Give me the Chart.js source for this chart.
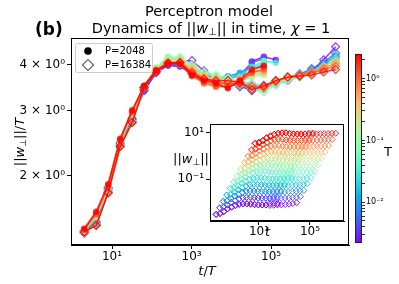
<!DOCTYPE html>
<html>
<head>
<meta charset="utf-8">
<script src="https://cdn.jsdelivr.net/npm/chart.js@4.4.1/dist/chart.umd.min.js"></script>
<style>
  body { margin: 0; background: #fff; }
  #wrap { position: relative; width: 399px; height: 284px; }
  canvas { position: absolute; }
</style>
</head>
<body>
<div id="wrap">
  <canvas id="main" width="399" height="284" style="left:0;top:0"></canvas>
  <canvas id="inset" width="190" height="125" style="left:160px;top:115px"></canvas>
  <canvas id="cbar" width="69" height="215" style="left:330px;top:40px"></canvas>
</div>
<script>
// temperatures (colour bar), low -> high
const temps = [0.0022, 0.0042, 0.0079, 0.015, 0.0285, 0.054, 0.102, 0.194, 0.368, 0.70, 1.32, 2.5];

// t/T sampling
const tOverT = [2, 4, 8, 16, 32, 64, 128, 256, 512, 1024, 2048, 4096, 8192, 16384, 32768,
  65536, 131072, 262144, 524288, 1048576, 2097152, 4194304];

// ||w_perp||/T, P=16384 (diamonds), one row per temperature
const wBig = [
  [1.40,1.50,1.86,2.46,2.86,3.40,3.80,4.02,4.08,4.10,3.85,3.68,3.58,3.52,3.40,3.45,3.55,3.62,3.72,3.85,4.12,4.47],
  [1.41,1.49,1.85,2.44,2.84,3.42,3.82,4.00,4.05,3.95,3.80,3.64,3.55,3.48,3.42,3.50,3.58,3.66,3.75,3.90,4.05,4.30],
  [1.42,1.48,1.83,2.43,2.82,3.45,3.84,4.02,4.00,3.90,3.75,3.66,3.60,3.50,3.46,3.52,3.60,3.70,3.78,3.88,4.02,4.20],
  [1.41,1.48,1.82,2.42,2.81,3.46,3.85,4.05,4.02,3.88,3.72,3.65,3.62,3.58,3.50,3.48,3.58,3.66,3.74,3.85,3.98,4.25],
  [1.41,1.48,1.82,2.41,2.80,3.47,3.86,4.08,4.10,3.92,3.78,3.70,3.65,3.60,3.55,3.50,3.55,3.62,3.70,3.82,3.96,4.15],
  [1.41,1.47,1.81,2.41,2.80,3.48,3.88,4.12,4.15,3.95,3.80,3.72,3.68,3.55,3.42,3.38,3.52,3.64,3.72,3.80,3.92,4.05],
  [1.41,1.47,1.81,2.40,2.80,3.48,3.88,4.12,4.18,4.00,3.82,3.75,3.66,3.58,3.45,3.40,3.55,3.65,3.70,3.78,3.88,4.00],
  [1.41,1.47,1.80,2.40,2.79,3.47,3.86,4.08,4.12,3.95,3.80,3.70,3.62,3.56,3.50,3.45,3.58,3.66,3.72,3.80,3.90,4.05],
  [1.41,1.47,1.80,2.40,2.79,3.47,3.85,4.06,4.08,3.90,3.72,3.65,3.58,3.52,3.50,3.48,3.60,3.68,3.74,3.82,3.95,4.10],
  [1.41,1.47,1.80,2.40,2.79,3.47,3.84,4.05,4.06,3.85,3.68,3.60,3.55,3.52,3.48,3.50,3.62,3.70,3.75,3.82,3.92,4.02],
  [1.41,1.47,1.80,2.40,2.79,3.47,3.83,4.04,4.05,3.82,3.66,3.58,3.55,3.55,3.50,3.46,3.60,3.70,3.74,3.80,3.88,3.95],
  [1.41,1.47,1.80,2.40,2.79,3.47,3.83,4.03,4.05,3.78,3.65,3.62,3.62,3.58,3.42,3.50,3.62,3.70,3.72,3.75,3.82,3.88]
];

// ||w_perp||/T, P=2048 (filled circles)
const wSmall = [
  [1.40,1.53,1.84,2.44,2.86,3.40,3.80,3.98,3.95,3.78,3.64,3.58,3.55,3.60,4.08,4.20,4.12],
  [1.41,1.53,1.84,2.45,2.87,3.42,3.82,4.00,3.98,3.80,3.66,3.62,3.65,3.75,4.05,4.15],
  [1.41,1.54,1.84,2.45,2.88,3.44,3.85,4.02,4.00,3.82,3.68,3.68,3.72,3.80,3.90,3.95],
  [1.41,1.54,1.85,2.46,2.90,3.46,3.88,4.08,4.05,3.85,3.68,3.65,3.70,3.78,3.92,4.00],
  [1.42,1.55,1.85,2.47,2.92,3.48,3.90,4.15,4.12,3.88,3.70,3.62,3.65,3.72,3.95,4.08,4.05],
  [1.42,1.55,1.86,2.47,2.93,3.50,3.92,4.20,4.18,3.92,3.72,3.65,3.58,3.60,3.85,4.10],
  [1.42,1.56,1.86,2.48,2.94,3.50,3.92,4.18,4.15,3.90,3.70,3.62,3.60,3.58,3.70,3.80],
  [1.42,1.56,1.87,2.48,2.95,3.50,3.90,4.12,4.10,3.85,3.65,3.58,3.55,3.62,3.72,3.75],
  [1.43,1.57,1.87,2.49,2.96,3.50,3.88,4.08,4.05,3.80,3.60,3.52,3.55,3.68,3.78,3.80],
  [1.43,1.57,1.88,2.50,2.97,3.50,3.87,4.06,4.02,3.75,3.55,3.48,3.50,3.65,3.82,3.85],
  [1.43,1.58,1.88,2.50,2.98,3.50,3.86,4.05,4.00,3.72,3.58,3.50,3.48,3.58,3.80,3.90],
  [1.44,1.60,1.90,2.52,3.01,3.50,3.85,4.02,4.02,3.75,3.62,3.56,3.45,3.62,3.88,3.97]
];

const yTicks = [2, 3, 4];
const xTicks = [1e1, 1e3, 1e5];
const insetXTicks = [1e1, 1e5];
const insetYTicks = [1e-1, 1e1];
const cbMajor = [0.01, 0.1, 1];

const FONT = "'DejaVu Sans', sans-serif";
const SUP = {'0':'⁰','1':'¹','2':'²','3':'³','4':'⁴','5':'⁵','6':'⁶','7':'⁷','8':'⁸','9':'⁹','-':'⁻'};
const sup = n => String(n).split('').map(c => SUP[c]).join('');
const pow10 = v => '10' + sup(Math.round(Math.log10(v)));

// matplotlib "rainbow"
function rainbow(x, a) {
  const cl = v => Math.max(0, Math.min(1, v));
  const r = cl(Math.abs(2 * x - 0.5)), g = cl(Math.sin(Math.PI * x)), b = cl(Math.cos(Math.PI * x / 2));
  return `rgba(${Math.round(r*255)},${Math.round(g*255)},${Math.round(b*255)},${a})`;
}
const lmin = Math.log10(temps[0]), lmax = Math.log10(temps[temps.length - 1]);
const tColor = (T, a) => rainbow((Math.log10(T) - lmin) / (lmax - lmin), a);

// draw text made of pieces with different fonts
function rich(ctx, parts, x, y, align) {
  let w = 0;
  parts.forEach(p => { ctx.font = p.f; w += ctx.measureText(p.t).width; });
  let cx = align === 'center' ? x - w / 2 : x;
  ctx.textBaseline = 'middle';
  ctx.textAlign = 'left';
  parts.forEach(p => { ctx.font = p.f; ctx.fillText(p.t, cx, y + (p.dy || 0)); cx += ctx.measureText(p.t).width; });
}

// ---- main plot ----
const mainSets = [];
temps.forEach((T, i) => {
  mainSets.push({
    data: wBig[i].map((v, j) => ({x: tOverT[j], y: v})),
    showLine: true, borderColor: tColor(T, 0.8), borderWidth: 1.4,
    pointStyle: 'rectRot', pointRadius: 4, pointBorderWidth: 1.1,
    pointBorderColor: tColor(T, 0.8), pointBackgroundColor: 'rgba(0,0,0,0)',
    order: 100 - i * 2
  });
  mainSets.push({
    data: wSmall[i].map((v, j) => ({x: tOverT[j], y: v})),
    showLine: true, borderColor: tColor(T, 0.8), borderWidth: 1.6,
    pointStyle: 'circle', pointRadius: 3.2, pointBorderWidth: 0,
    pointBackgroundColor: tColor(T, 0.8),
    order: 99 - i * 2
  });
});

const mainDecor = {
  id: 'mainDecor',
  afterDraw(chart) {
    const ctx = chart.ctx, ca = chart.chartArea;
    ctx.save();
    ctx.strokeStyle = '#000'; ctx.lineWidth = 1;
    ctx.strokeRect(Math.round(ca.left) + 0.5, Math.round(ca.top) + 0.5, Math.round(ca.width) - 1, Math.round(ca.height) - 1);
    ctx.fillStyle = '#000';
    // titles
    rich(ctx, [{t: 'Perceptron model', f: `14.5px ${FONT}`}], 209, 12, 'center');
    rich(ctx, [
      {t: 'Dynamics of ||', f: `14.5px ${FONT}`},
      {t: 'w', f: `italic 14.5px ${FONT}`},
      {t: '⊥', f: `10px ${FONT}`, dy: 3},
      {t: '|| in time, ', f: `14.5px ${FONT}`},
      {t: 'χ', f: `italic 14.5px ${FONT}`},
      {t: ' = 1', f: `14.5px ${FONT}`}
    ], 211, 29, 'center');
    rich(ctx, [{t: '(b)', f: `bold 17px ${FONT}`}], 35, 31, 'left');
    // x label
    rich(ctx, [
      {t: 't', f: `italic 13px ${FONT}`}, {t: '/', f: `13px ${FONT}`}, {t: 'T', f: `italic 13px ${FONT}`}
    ], 207, 272, 'center');
    // y label
    ctx.save();
    ctx.translate(21, 142);
    ctx.rotate(-Math.PI / 2);
    rich(ctx, [
      {t: '||', f: `13px ${FONT}`}, {t: 'w', f: `italic 13px ${FONT}`}, {t: '⊥', f: `9px ${FONT}`, dy: 3},
      {t: '||/', f: `13px ${FONT}`}, {t: 'T', f: `italic 13px ${FONT}`}
    ], 0, 0, 'center');
    ctx.restore();
    // legend
    ctx.fillStyle = 'rgba(255,255,255,0.85)';
    ctx.strokeStyle = '#ccc';
    ctx.beginPath();
    ctx.roundRect(75.5, 43.5, 77, 29, 2);
    ctx.fill(); ctx.stroke();
    ctx.fillStyle = '#000';
    ctx.beginPath(); ctx.arc(88, 51, 3.8, 0, Math.PI * 2); ctx.fill();
    ctx.strokeStyle = '#000'; ctx.lineWidth = 1;
    ctx.beginPath(); ctx.moveTo(88, 59.5); ctx.lineTo(93.5, 65); ctx.lineTo(88, 70.5); ctx.lineTo(82.5, 65); ctx.closePath(); ctx.stroke();
    rich(ctx, [{t: 'P=2048', f: `10px ${FONT}`}], 105, 51, 'left');
    rich(ctx, [{t: 'P=16384', f: `10px ${FONT}`}], 105, 65, 'left');
    ctx.restore();
  }
};

new Chart(document.getElementById('main'), {
  type: 'scatter',
  data: {datasets: mainSets},
  options: {
    responsive: false, animation: false, events: [],
    layout: {padding: {left: 0, top: 38, right: 50, bottom: 0}},
    plugins: {legend: {display: false}, tooltip: {enabled: false}},
    scales: {
      x: {
        type: 'logarithmic', min: 0.93, max: 9.1e6,
        afterBuildTicks: s => { s.ticks = xTicks.map(v => ({value: v})); },
        afterFit: s => { s.height = 39; },
        ticks: {callback: v => pow10(v), color: '#000', font: {family: FONT, size: 12}, maxRotation: 0, padding: 1},
        grid: {drawOnChartArea: false, tickLength: 4, color: '#000'},
        border: {color: '#000'}
      },
      y: {
        type: 'logarithmic', min: 1.325, max: 4.72,
        afterBuildTicks: s => { s.ticks = yTicks.map(v => ({value: v})); },
        afterFit: s => { s.width = 71; },
        ticks: {callback: v => v + ' × 10⁰', color: '#000', font: {family: FONT, size: 12}, padding: 2},
        grid: {drawOnChartArea: false, tickLength: 4, color: '#000'},
        border: {color: '#000'}
      }
    }
  },
  plugins: [mainDecor]
});

// ---- inset: ||w_perp|| against t ----
const insetSets = [];
temps.forEach((T, i) => {
  [wSmall[i], wBig[i]].forEach(row => {
    insetSets.push({
      data: row.map((v, j) => ({x: tOverT[j] * T, y: v * T})),
      showLine: false, pointStyle: 'rectRot', pointRadius: 3, pointBorderWidth: 1,
      pointBorderColor: tColor(T, 0.9), pointBackgroundColor: 'rgba(0,0,0,0)',
      order: 100 - i
    });
  });
});

const insetDecor = {
  id: 'insetDecor',
  beforeDraw(chart) {
    const ctx = chart.ctx, ca = chart.chartArea;
    ctx.save(); ctx.fillStyle = '#fff';
    ctx.fillRect(ca.left, ca.top, ca.width, ca.height);
    ctx.restore();
  },
  afterDraw(chart) {
    const ctx = chart.ctx, ca = chart.chartArea;
    ctx.save();
    ctx.strokeStyle = '#000'; ctx.lineWidth = 1;
    ctx.strokeRect(Math.round(ca.left) + 0.5, Math.round(ca.top) + 0.5, Math.round(ca.width) - 1, Math.round(ca.height) - 1);
    ctx.fillStyle = '#000';
    rich(ctx, [
      {t: '||', f: `13px ${FONT}`}, {t: 'w', f: `italic 13px ${FONT}`}, {t: '⊥', f: `9px ${FONT}`, dy: 3},
      {t: '||', f: `13px ${FONT}`}
    ], 13, 45, 'left');
    rich(ctx, [{t: 't', f: `italic 13px ${FONT}`}], 105, 118, 'left');
    ctx.restore();
  }
};

new Chart(document.getElementById('inset'), {
  type: 'scatter',
  data: {datasets: insetSets},
  options: {
    responsive: false, animation: false, events: [],
    layout: {padding: {left: 0, top: 6, right: 6, bottom: 0}},
    plugins: {legend: {display: false}, tooltip: {enabled: false}},
    scales: {
      x: {
        type: 'logarithmic', min: 0.00145, max: 4.7e7,
        afterBuildTicks: s => { s.ticks = insetXTicks.map(v => ({value: v})); },
        afterFit: s => { s.height = 19; },
        ticks: {callback: v => pow10(v), color: '#000', font: {family: FONT, size: 12}, maxRotation: 0, padding: 0},
        grid: {drawOnChartArea: false, tickLength: 4, color: '#000'},
        border: {color: '#000'}
      },
      y: {
        type: 'logarithmic', min: 0.0016, max: 23.7,
        afterBuildTicks: s => { s.ticks = insetYTicks.map(v => ({value: v})); },
        afterFit: s => { s.width = 50; },
        ticks: {callback: v => pow10(v), color: '#000', font: {family: FONT, size: 12}, padding: 2},
        grid: {drawOnChartArea: false, tickLength: 4, color: '#000'},
        border: {color: '#000'}
      }
    }
  },
  plugins: [insetDecor]
});

// ---- colour bar ----
const cbTicks = [];
[0.001, 0.01, 0.1, 1].forEach(d => { for (let m = 1; m < 10; m++) { const v = m * d; if (v >= temps[0] && v <= temps[temps.length - 1]) cbTicks.push(v); } });

const cbDecor = {
  id: 'cbDecor',
  beforeDatasetsDraw(chart) {
    const ctx = chart.ctx, ca = chart.chartArea;
    const g = ctx.createLinearGradient(0, ca.bottom, 0, ca.top);
    for (let k = 0; k <= 40; k++) g.addColorStop(k / 40, rainbow(k / 40, 1));
    ctx.save();
    ctx.fillStyle = g;
    ctx.fillRect(ca.left, ca.top, ca.width, ca.height);
    ctx.strokeStyle = '#222'; ctx.lineWidth = 1;
    ctx.strokeRect(ca.left + 0.5, ca.top + 0.5, ca.width - 1, ca.height - 1);
    ctx.fillStyle = '#000';
    rich(ctx, [{t: 'T', f: `13px ${FONT}`}], 54, 113, 'left');
    ctx.restore();
  }
};

new Chart(document.getElementById('cbar'), {
  type: 'scatter',
  data: {datasets: [{data: []}]},
  options: {
    responsive: false, animation: false, events: [],
    layout: {padding: {left: 25, top: 14, right: 0, bottom: 12}},
    plugins: {legend: {display: false}, tooltip: {enabled: false}},
    scales: {
      x: {display: false},
      y: {
        type: 'logarithmic', position: 'right', min: temps[0], max: temps[temps.length - 1],
        afterBuildTicks: s => { s.ticks = cbTicks.map(v => ({value: v})); },
        afterFit: s => { s.width = 37; },
        ticks: {
          autoSkip: false,
          callback: v => cbMajor.some(m => Math.abs(m - v) / m < 1e-6) ? pow10(v) : '',
          color: '#000', font: {family: FONT, size: 8}, padding: 1
        },
        grid: {drawOnChartArea: false, tickLength: 3, color: '#333'},
        border: {display: false}
      }
    }
  },
  plugins: [cbDecor]
});
</script>
</body>
</html>
